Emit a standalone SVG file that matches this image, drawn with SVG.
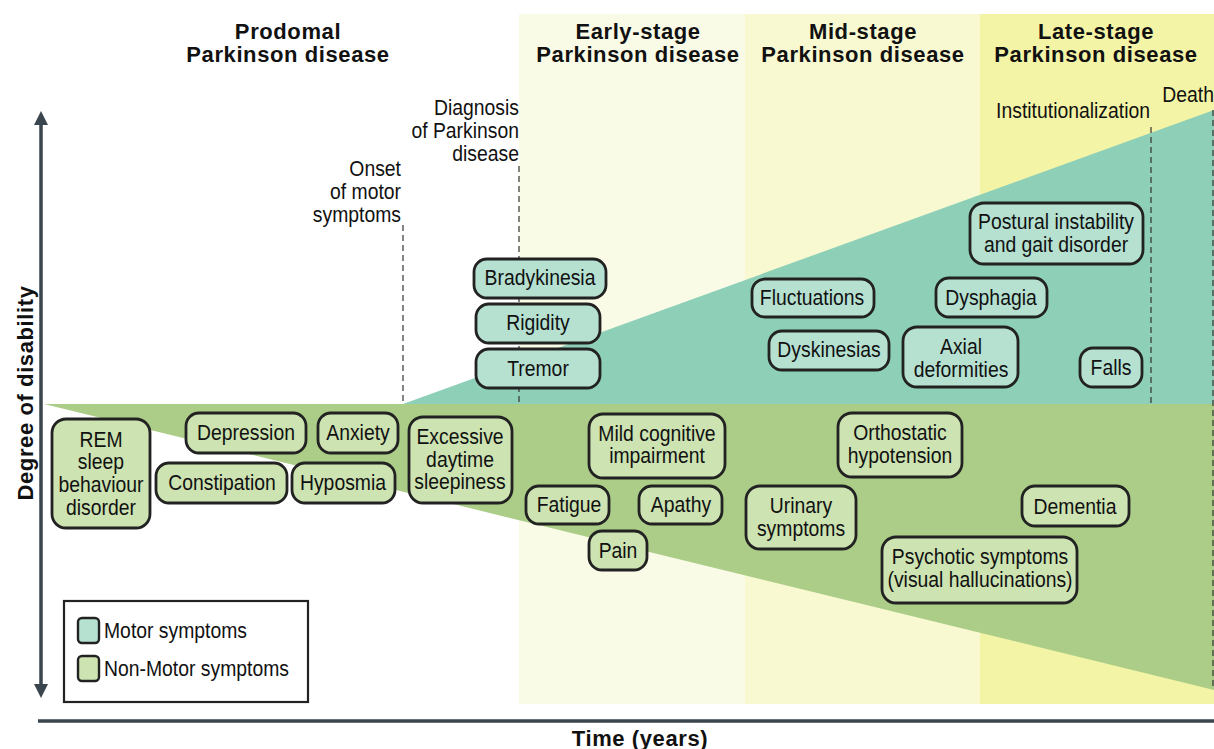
<svg xmlns="http://www.w3.org/2000/svg" width="1214" height="749" viewBox="0 0 1214 749">
<defs>
<style>
.hd{font-family:"Liberation Sans",Arial,sans-serif;font-weight:bold;font-size:22px;letter-spacing:0.6px;fill:#111;text-anchor:middle}
.t{font-family:"Liberation Sans",Arial,sans-serif;font-size:22px;fill:#111;text-anchor:middle}
.an{font-family:"Liberation Sans",Arial,sans-serif;font-size:22px;fill:#111;text-anchor:end}
.ls{font-family:"Liberation Sans",Arial,sans-serif;font-size:22px;fill:#111;text-anchor:start}
.m rect{fill:#b6e1d1;stroke:#222;stroke-width:2.8}
.n rect{fill:#cde3b2;stroke:#222;stroke-width:2.8}
.dash{stroke:#333;stroke-width:1.2;stroke-dasharray:6 4;fill:none}
.ax{stroke:#3a454e;stroke-width:3.5;fill:none}
</style>
<marker id="ah" viewBox="0 0 10 10" refX="5" refY="5" markerWidth="4" markerHeight="4" orient="auto-start-reverse">
<path d="M0,0 L10,5 L0,10 z" fill="#3a454e"/>
</marker>
</defs>
<rect width="1214" height="749" fill="#fff"/>
<g id="panels">
<rect x="519" y="14" width="226" height="690" fill="#fafbe6"/>
<rect x="745" y="14" width="235" height="690" fill="#f8f9d1"/>
<rect x="980" y="14" width="234" height="690" fill="#f4f4a6"/>
</g>
<g id="areas">
<polygon points="403,404 1214,110 1214,404" fill="#8ecfb8"/>
<polygon points="44,404 1214,404 1214,690" fill="#abcd87"/>
</g>
<g id="headers">
<text class="hd" x="288" y="39">Prodomal</text>
<text class="hd" x="288" y="62">Parkinson disease</text>
<text class="hd" x="638" y="39">Early-stage</text>
<text class="hd" x="638" y="62">Parkinson disease</text>
<text class="hd" x="863" y="39">Mid-stage</text>
<text class="hd" x="863" y="62">Parkinson disease</text>
<text class="hd" x="1096" y="39">Late-stage</text>
<text class="hd" x="1096" y="62">Parkinson disease</text>
</g>
<g id="connectors">
<line class="dash" x1="403" y1="225" x2="403" y2="404"/>
<line class="dash" x1="519" y1="166" x2="519" y2="404"/>
<line class="dash" x1="1151" y1="127" x2="1151" y2="404"/>
<line class="dash" x1="1213" y1="110" x2="1213" y2="690"/>
<line class="ax" x1="41" y1="118" x2="41" y2="691" marker-start="url(#ah)" marker-end="url(#ah)"/>
<line class="ax" x1="38" y1="721" x2="1214" y2="721"/>
</g>
<g id="annotations">
<text class="an" transform="translate(401,176) scale(0.88,1)">Onset</text>
<text class="an" transform="translate(401,199) scale(0.88,1)">of motor</text>
<text class="an" transform="translate(401,222) scale(0.88,1)">symptoms</text>
<text class="an" transform="translate(519,115) scale(0.88,1)">Diagnosis</text>
<text class="an" transform="translate(519,138) scale(0.88,1)">of Parkinson</text>
<text class="an" transform="translate(519,161) scale(0.88,1)">disease</text>
<text class="an" transform="translate(1150,118) scale(0.88,1)">Institutionalization</text>
<text class="an" transform="translate(1214,102) scale(0.88,1)">Death</text>
</g>
<g id="axis-labels">
<text class="hd" x="640" y="746">Time (years)</text>
<text class="hd" transform="translate(33,393) rotate(-90)">Degree of disability</text>
</g>
<g id="bradykinesia" class="m"><rect x="474" y="259" width="132" height="39" rx="13"/><text class="t" transform="translate(540,285) scale(0.88,1)">Bradykinesia</text></g>
<g id="rigidity" class="m"><rect x="476" y="304" width="124" height="39" rx="13"/><text class="t" transform="translate(538,330) scale(0.88,1)">Rigidity</text></g>
<g id="tremor" class="m"><rect x="476" y="349" width="124" height="39" rx="13"/><text class="t" transform="translate(538,376) scale(0.88,1)">Tremor</text></g>
<g id="fluctuations" class="m"><rect x="752" y="279" width="122" height="38" rx="13"/><text class="t" transform="translate(812,305) scale(0.88,1)">Fluctuations</text></g>
<g id="dyskinesias" class="m"><rect x="769" y="331" width="120" height="39" rx="13"/><text class="t" transform="translate(829,357) scale(0.88,1)">Dyskinesias</text></g>
<g id="postural" class="m"><rect x="970" y="203" width="173" height="61" rx="14"/><text class="t" transform="translate(1056,229) scale(0.88,1)">Postural instability</text><text class="t" transform="translate(1056,252) scale(0.88,1)">and gait disorder</text></g>
<g id="dysphagia" class="m"><rect x="936" y="278" width="111" height="39" rx="13"/><text class="t" transform="translate(991,305) scale(0.88,1)">Dysphagia</text></g>
<g id="axial" class="m"><rect x="903" y="327" width="115" height="60" rx="14"/><text class="t" transform="translate(961,354) scale(0.88,1)">Axial</text><text class="t" transform="translate(961,377) scale(0.88,1)">deformities</text></g>
<g id="falls" class="m"><rect x="1080" y="348" width="62" height="39" rx="13"/><text class="t" transform="translate(1111,375) scale(0.88,1)">Falls</text></g>
<g id="rem" class="n"><rect x="52" y="419" width="98" height="109" rx="14"/><text class="t" transform="translate(101,447) scale(0.88,1)">REM</text><text class="t" transform="translate(101,469) scale(0.88,1)">sleep</text><text class="t" transform="translate(101,492) scale(0.88,1)">behaviour</text><text class="t" transform="translate(101,515) scale(0.88,1)">disorder</text></g>
<g id="depression" class="n"><rect x="186" y="413" width="120" height="40" rx="13"/><text class="t" transform="translate(246,440) scale(0.88,1)">Depression</text></g>
<g id="anxiety" class="n"><rect x="318" y="413" width="80" height="40" rx="13"/><text class="t" transform="translate(358,440) scale(0.88,1)">Anxiety</text></g>
<g id="constipation" class="n"><rect x="156" y="463" width="131" height="40" rx="13"/><text class="t" transform="translate(222,490) scale(0.88,1)">Constipation</text></g>
<g id="hyposmia" class="n"><rect x="292" y="463" width="103" height="40" rx="13"/><text class="t" transform="translate(343,490) scale(0.88,1)">Hyposmia</text></g>
<g id="eds" class="n"><rect x="409" y="417" width="103" height="86" rx="14"/><text class="t" transform="translate(460,444) scale(0.88,1)">Excessive</text><text class="t" transform="translate(460,467) scale(0.88,1)">daytime</text><text class="t" transform="translate(460,489) scale(0.88,1)">sleepiness</text></g>
<g id="mci" class="n"><rect x="589" y="414" width="136" height="64" rx="14"/><text class="t" transform="translate(657,441) scale(0.88,1)">Mild cognitive</text><text class="t" transform="translate(657,463) scale(0.88,1)">impairment</text></g>
<g id="fatigue" class="n"><rect x="526" y="486" width="83" height="38" rx="13"/><text class="t" transform="translate(569,512) scale(0.88,1)">Fatigue</text></g>
<g id="apathy" class="n"><rect x="639" y="486" width="83" height="38" rx="13"/><text class="t" transform="translate(681,512) scale(0.88,1)">Apathy</text></g>
<g id="pain" class="n"><rect x="589" y="531" width="58" height="39" rx="13"/><text class="t" transform="translate(618,558) scale(0.88,1)">Pain</text></g>
<g id="urinary" class="n"><rect x="746" y="486" width="110" height="63" rx="14"/><text class="t" transform="translate(801,513) scale(0.88,1)">Urinary</text><text class="t" transform="translate(801,536) scale(0.88,1)">symptoms</text></g>
<g id="orthostatic" class="n"><rect x="838" y="413" width="124" height="64" rx="14"/><text class="t" transform="translate(900,440) scale(0.88,1)">Orthostatic</text><text class="t" transform="translate(900,463) scale(0.88,1)">hypotension</text></g>
<g id="dementia" class="n"><rect x="1022" y="486" width="107" height="40" rx="13"/><text class="t" transform="translate(1075,514) scale(0.88,1)">Dementia</text></g>
<g id="psychotic" class="n"><rect x="882" y="537" width="195" height="66" rx="14"/><text class="t" transform="translate(980,564) scale(0.88,1)">Psychotic symptoms</text><text class="t" transform="translate(980,587) scale(0.88,1)">(visual hallucinations)</text></g>
<g id="legend">
<rect x="64" y="601" width="244" height="101" fill="#fff" stroke="#222" stroke-width="2.2"/>
<rect x="78" y="618" width="21" height="25" rx="4" fill="#b6e1d1" stroke="#222" stroke-width="2.4"/>
<rect x="78" y="656" width="21" height="25" rx="4" fill="#cde3b2" stroke="#222" stroke-width="2.4"/>
<text class="ls" transform="translate(104,638) scale(0.88,1)">Motor symptoms</text>
<text class="ls" transform="translate(104,676) scale(0.88,1)">Non-Motor symptoms</text>
</g>
</svg>
